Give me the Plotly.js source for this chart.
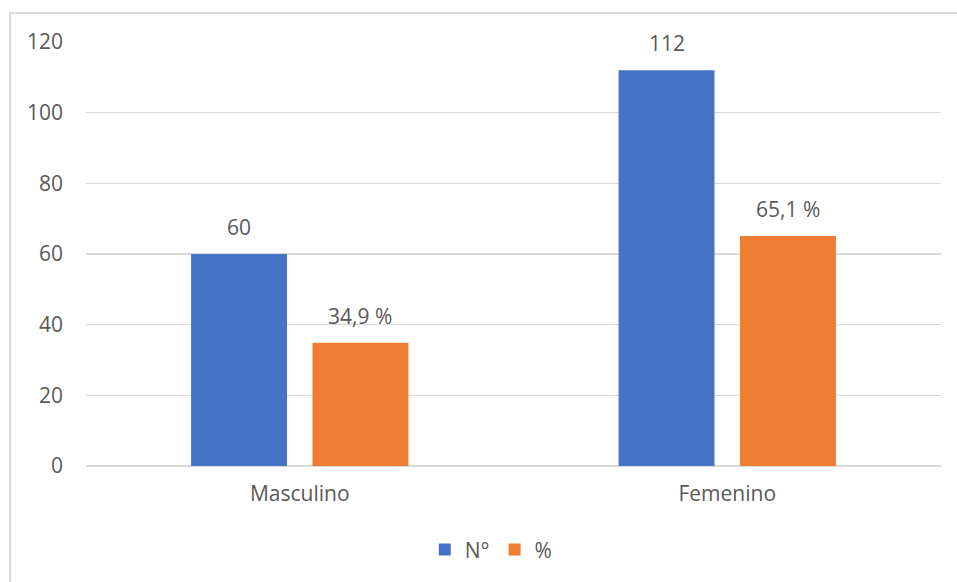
<!DOCTYPE html>
<html>
<head>
<meta charset="utf-8">
<script src="https://cdn.plot.ly/plotly-3.0.1.min.js"></script>
<style>
html,body{margin:0;padding:0;background:#fff;}
#wrap{position:relative;width:957px;height:582px;overflow:hidden;}
#frame{position:absolute;left:9px;top:12px;width:960px;height:600px;border-left:2px solid #d9d9d9;border-top:2px solid #d9d9d9;box-sizing:border-box;pointer-events:none;}
#chart{position:absolute;left:0;top:0;width:957px;height:582px;}
</style>
</head>
<body>
<div id="wrap">
<div id="chart"></div>
<div id="frame"></div>
</div>
<script>
const categories = ["Masculino", "Femenino"];
const seriesNames = ["N°", "%"];
const countValues = [60, 112];
const percentValues = [34.9, 65.1];
const yTicks = [0, 20, 40, 60, 80, 100, 120];

const colors = ["#4472C4", "#ED7D31"];
const fontFam = "'Open Sans', 'Noto Sans', sans-serif";
const txtColor = "#595959";
const fs = 21;

function fmtPct(v){ return v.toFixed(1).replace('.', ',') + ' %'; }
const countLabels = countValues.map(v => String(v));
const pctLabels = percentValues.map(fmtPct);

const traces = [
  {type:'bar', name:seriesNames[0], x:categories, y:countValues, marker:{color:colors[0]}, hoverinfo:'none'},
  {type:'bar', name:seriesNames[1], x:categories, y:percentValues, marker:{color:colors[1]}, hoverinfo:'none'}
];

const bargap = 0.432, bargroupgap = 0.21;
const plotW = 957 - 86 - 16;
const slotPx = plotW / categories.length * (1 - bargap) / 2;

const annotations = [];
categories.forEach((c, i) => {
  annotations.push({x:c, y:countValues[i], xref:'x', yref:'y', text:countLabels[i], showarrow:false,
    xshift:-slotPx/2, yanchor:'bottom', yshift:11, font:{family:fontFam, size:fs, color:txtColor}});
  annotations.push({x:c, y:percentValues[i], xref:'x', yref:'y', text:pctLabels[i], showarrow:false,
    xshift:slotPx/2, yanchor:'bottom', yshift:11, font:{family:fontFam, size:fs, color:txtColor}});
});

const layout = {
  width:957, height:582,
  margin:{l:86, r:16, t:42, b:116},
  paper_bgcolor:'rgba(0,0,0,0)', plot_bgcolor:'#fff',
  font:{family:fontFam, size:fs, color:txtColor},
  barmode:'group', bargap:bargap, bargroupgap:bargroupgap,
  showlegend:true,
  legend:{orientation:'h', x:0.474, xanchor:'center', y:-0.198, yanchor:'middle',
    font:{family:fontFam, size:fs, color:txtColor}, itemclick:false},
  xaxis:{type:'category', showgrid:false, showline:false, zeroline:false, ticks:'',
    tickfont:{family:fontFam, size:fs, color:txtColor}, ticklabelstandoff:13},
  yaxis:{range:[0,120], tickvals:yTicks, showgrid:true, gridcolor:'#d9d9d9', gridwidth:1.5,
    zeroline:true, zerolinecolor:'#d9d9d9', zerolinewidth:1.5, showline:false, ticks:'',
    tickfont:{family:fontFam, size:fs, color:txtColor}, ticklabelstandoff:22},
  annotations:annotations
};

Plotly.newPlot('chart', traces, layout, {displayModeBar:false, staticPlot:true});
</script>
</body>
</html>
